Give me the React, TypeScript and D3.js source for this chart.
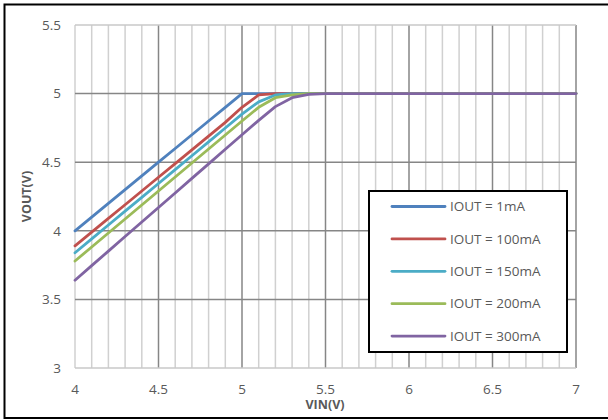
import React from "react";
import * as d3 from "d3";

// Input voltage sample points (V)
const VIN = [4.0, 4.1, 4.2, 4.3, 4.4, 4.5, 4.6, 4.7, 4.8, 4.9, 5.0, 5.1, 5.2, 5.3, 5.4, 5.5, 6.0, 6.5, 7.0];

// Output voltage for each load current (V)
const VOUT_1MA = [4.0, 4.1, 4.2, 4.3, 4.4, 4.5, 4.6, 4.7, 4.8, 4.9, 5.0, 5.0, 5.0, 5.0, 5.0, 5.0, 5.0, 5.0, 5.0];
const VOUT_100MA = [3.89, 3.99, 4.09, 4.19, 4.29, 4.39, 4.49, 4.59, 4.69, 4.79, 4.9, 4.99, 5.0, 5.0, 5.0, 5.0, 5.0, 5.0, 5.0];
const VOUT_150MA = [3.84, 3.941, 4.042, 4.143, 4.244, 4.345, 4.446, 4.547, 4.648, 4.749, 4.85, 4.94, 4.99, 5.0, 5.0, 5.0, 5.0, 5.0, 5.0];
const VOUT_200MA = [3.78, 3.882, 3.984, 4.086, 4.188, 4.29, 4.392, 4.494, 4.596, 4.698, 4.8, 4.9, 4.97, 4.99, 5.0, 5.0, 5.0, 5.0, 5.0];
const VOUT_300MA = [3.64, 3.746, 3.852, 3.958, 4.064, 4.17, 4.276, 4.382, 4.488, 4.594, 4.7, 4.805, 4.905, 4.97, 4.995, 5.0, 5.0, 5.0, 5.0];

const SERIES_NAMES = ["IOUT = 1mA", "IOUT = 100mA", "IOUT = 150mA", "IOUT = 200mA", "IOUT = 300mA"];
const SERIES_COLORS = ["#4F81BD", "#C0504D", "#4BACC6", "#9BBB59", "#8064A2"];
const SERIES_VALUES = [VOUT_1MA, VOUT_100MA, VOUT_150MA, VOUT_200MA, VOUT_300MA];

const X_TICKS = [4, 4.5, 5, 5.5, 6, 6.5, 7];
const Y_TICKS = [3, 3.5, 4, 4.5, 5, 5.5];
const X_MINOR = d3.range(40, 71).map((v) => v / 10);

const W = 608;
const H = 420;
const FONT = "'Open Sans', 'Noto Sans', sans-serif";
const TEXT = "#595959";

export default function App() {
  const x = d3.scaleLinear().domain([4, 7]).range([75, 576]);
  const y = d3.scaleLinear().domain([3, 5.5]).range([368, 25]);
  const line = d3
    .line<[number, number]>()
    .x((d) => x(d[0]))
    .y((d) => y(d[1]));

  const legend = { x: 369, y: 191, w: 198, h: 161, rowY0: 206.5, rowStep: 32.4 };

  return (
    <svg
      width={W}
      height={H}
      style={{ position: "absolute", left: 0, top: 0, background: "#fff" }}
      fontFamily={FONT}
    >
      <rect x={4.5} y={4.5} width={W + 10} height={413.5} fill="#fff" stroke="#000" strokeWidth={2} />

      {/* vertical grid: 0.1 V minor, 0.5 V major */}
      {X_MINOR.map((v, i) => {
        const major = i % 5 === 0 && i > 0;
        return (
          <line
            key={"vx" + i}
            x1={x(v)}
            x2={x(v)}
            y1={y(5.5)}
            y2={y(3)}
            stroke={major ? "#868686" : "#D0D0D0"}
            strokeWidth={1.5}
          />
        );
      })}
      {/* horizontal grid */}
      {Y_TICKS.map((v, i) => {
        const edge = i === 0 || i === Y_TICKS.length - 1;
        return (
          <line
            key={"hy" + i}
            x1={x(4)}
            x2={x(7)}
            y1={y(v)}
            y2={y(v)}
            stroke={edge ? "#C8C8C8" : "#868686"}
            strokeWidth={1.5}
          />
        );
      })}

      {/* series */}
      {SERIES_VALUES.map((vals, si) => (
        <path
          key={"s" + si}
          d={line(VIN.map((v, i) => [v, vals[i]] as [number, number])) || ""}
          fill="none"
          stroke={SERIES_COLORS[si]}
          strokeWidth={2.8}
          strokeLinejoin="round"
          strokeLinecap="round"
        />
      ))}

      {/* y tick labels */}
      {Y_TICKS.map((v) => (
        <text key={"yl" + v} x={61} y={y(v)} dy="0.35em" textAnchor="end" fontSize={13.5} fill={TEXT}>
          {v}
        </text>
      ))}
      {/* x tick labels */}
      {X_TICKS.map((v) => (
        <text key={"xl" + v} x={x(v)} y={389} dy="0.35em" textAnchor="middle" fontSize={13.5} fill={TEXT}>
          {v}
        </text>
      ))}

      {/* axis titles */}
      <text x={325} y={405} dy="0.35em" textAnchor="middle" fontSize={12.5} fontWeight="bold" fill={TEXT}>
        VIN(V)
      </text>
      <text
        transform={`translate(27,${y(4.25)}) rotate(-90)`}
        dy="0.35em"
        textAnchor="middle"
        fontSize={12.5}
        fontWeight="bold"
        fill={TEXT}
      >
        VOUT(V)
      </text>

      {/* legend */}
      <rect x={legend.x} y={legend.y} width={legend.w} height={legend.h} fill="#fff" stroke="#000" strokeWidth={2} />
      {SERIES_NAMES.map((name, i) => {
        const ry = legend.rowY0 + i * legend.rowStep;
        return (
          <g key={"lg" + i}>
            <line x1={392} x2={445} y1={ry} y2={ry} stroke={SERIES_COLORS[i]} strokeWidth={2.8} strokeLinecap="round" />
            <text x={450} y={ry} dy="0.35em" fontSize={13.5} fill={TEXT}>
              {name}
            </text>
          </g>
        );
      })}
    </svg>
  );
}
